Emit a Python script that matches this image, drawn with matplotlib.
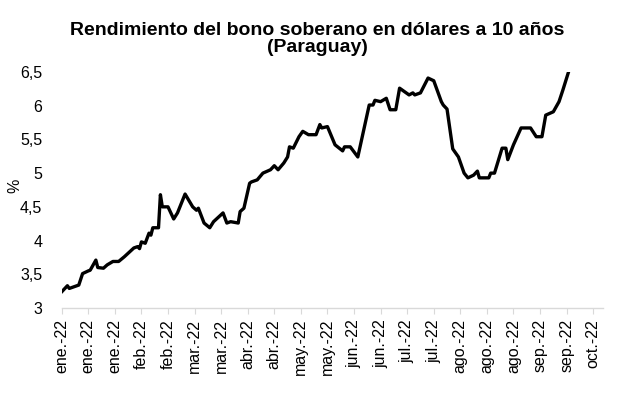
import pandas as pd
import matplotlib
matplotlib.use("Agg")
import matplotlib.pyplot as plt

# fechas y rendimiento (%)
fechas = [
    "2022-01-03", "2022-01-06", "2022-01-07", "2022-01-12", "2022-01-14", "2022-01-17",
    "2022-01-18", "2022-01-21", "2022-01-22", "2022-01-25", "2022-01-27", "2022-01-30",
    "2022-02-02", "2022-02-05", "2022-02-10", "2022-02-12", "2022-02-13", "2022-02-14",
    "2022-02-16", "2022-02-18", "2022-02-19", "2022-02-20", "2022-02-23", "2022-02-24",
    "2022-02-25", "2022-02-28", "2022-03-03", "2022-03-05", "2022-03-09", "2022-03-13",
    "2022-03-15", "2022-03-16", "2022-03-19", "2022-03-22", "2022-03-24", "2022-03-29",
    "2022-03-31", "2022-04-02", "2022-04-06", "2022-04-07", "2022-04-09", "2022-04-12",
    "2022-04-13", "2022-04-16", "2022-04-19", "2022-04-23", "2022-04-25", "2022-04-27",
    "2022-04-30", "2022-05-02", "2022-05-03", "2022-05-05", "2022-05-08", "2022-05-10",
    "2022-05-13", "2022-05-17", "2022-05-19", "2022-05-20", "2022-05-23", "2022-05-27",
    "2022-05-31", "2022-06-01", "2022-06-04", "2022-06-08", "2022-06-14", "2022-06-16",
    "2022-06-17", "2022-06-20", "2022-06-23", "2022-06-25", "2022-06-28", "2022-06-30",
    "2022-07-05", "2022-07-07", "2022-07-08", "2022-07-11", "2022-07-15", "2022-07-18",
    "2022-07-22", "2022-07-23", "2022-07-25", "2022-07-28", "2022-07-31", "2022-08-03",
    "2022-08-05", "2022-08-08", "2022-08-10", "2022-08-11", "2022-08-16", "2022-08-17",
    "2022-08-19", "2022-08-23", "2022-08-25", "2022-08-26", "2022-08-29", "2022-09-02",
    "2022-09-07", "2022-09-10", "2022-09-13", "2022-09-15", "2022-09-19", "2022-09-22",
    "2022-09-24", "2022-09-27",
]
rendimiento = [
    3.24, 3.33, 3.29, 3.34, 3.51, 3.55,
    3.56, 3.71, 3.60, 3.59, 3.64, 3.69,
    3.69, 3.76, 3.89, 3.91, 3.88, 3.98,
    3.96, 4.11, 4.08, 4.19, 4.19, 4.68,
    4.50, 4.50, 4.32, 4.41, 4.69, 4.50,
    4.45, 4.48, 4.26, 4.19, 4.28, 4.41,
    4.26, 4.28, 4.26, 4.43, 4.48, 4.85,
    4.87, 4.90, 5.00, 5.05, 5.11, 5.05,
    5.15, 5.24, 5.39, 5.37, 5.54, 5.62,
    5.57, 5.57, 5.72, 5.67, 5.69, 5.42,
    5.33, 5.39, 5.39, 5.24, 6.01, 6.01,
    6.08, 6.06, 6.11, 5.94, 5.94, 6.26,
    6.16, 6.19, 6.16, 6.19, 6.41, 6.37,
    6.06, 6.01, 5.95, 5.36, 5.24, 5.00,
    4.93, 4.97, 5.03, 4.93, 4.93, 5.00,
    5.00, 5.37, 5.37, 5.20, 5.42, 5.67,
    5.67, 5.54, 5.54, 5.86, 5.91, 6.06,
    6.23, 6.50,
]

meses = ["ene.", "feb.", "mar.", "abr.", "may.", "jun.", "jul.", "ago.", "sep.", "oct.", "nov.", "dic."]
y_ticks = [3, 3.5, 4, 4.5, 5, 5.5, 6, 6.5]

fechas = pd.to_datetime(fechas)
x_ticks = pd.date_range("2022-01-03", "2022-10-10", freq="14D")
x_labels = [meses[d.month - 1] + "-" + d.strftime("%y") for d in x_ticks]

plt.rcParams["font.family"] = ["Liberation Sans", "DejaVu Sans"]

fig = plt.figure(figsize=(6.17, 3.94), dpi=100)
ax = fig.add_axes([0.1, 0.2183, 0.8768, 0.599])

ax.plot(fechas, rendimiento, color="black", linewidth=2.4, solid_joinstyle="round")

ax.set_xlim(pd.Timestamp("2022-01-03"), pd.Timestamp("2022-10-15"))
ax.set_ylim(3, 6.5)
ax.set_xticks(x_ticks)
ax.set_xticklabels(x_labels, rotation=90, fontsize=11.5)
ax.set_yticks(y_ticks)
ax.set_yticklabels([("%g" % v).replace(".", ",") for v in y_ticks], fontsize=11.5)

for s in ["top", "right", "left"]:
    ax.spines[s].set_visible(False)
ax.spines["bottom"].set_color("#d9d9d9")
ax.spines["bottom"].set_linewidth(1.0)
ax.tick_params(axis="x", direction="out", length=4, color="#d9d9d9", pad=4)
ax.tick_params(axis="y", length=0, pad=14)

# etiqueta del eje y
fig.text(0.012, 0.528, "%", rotation=90, ha="left", va="center", fontsize=11.5)

fig.text(0.514, 0.945, "Rendimiento del bono soberano en dólares a 10 años\n(Paraguay)",
         ha="center", va="top", fontsize=14, fontweight="bold", linespacing=1.05)

fig.savefig("out.png", dpi=100)
